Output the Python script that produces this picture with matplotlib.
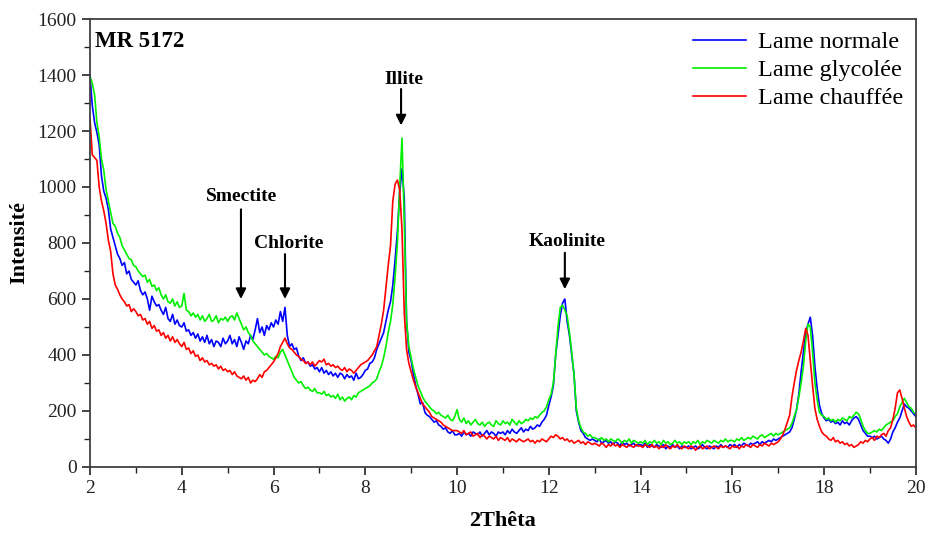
import numpy as np
import matplotlib.pyplot as plt

# 2Theta grid, 0.05 step from 2 to 20
two_theta = np.round(np.arange(2.0, 20.001, 0.05), 2)

# intensities (one row per degree)
lame_normale = [
    1400, 1290, 1230, 1195, 1150, 1040, 985, 960, 920, 850, 820, 790, 760, 745, 720, 730, 690, 700, 670, 660,
    650, 665, 630, 615, 625, 600, 560, 610, 590, 575, 580, 560, 545, 570, 530, 520, 545, 510, 525, 505,
    500, 515, 485, 490, 470, 480, 460, 475, 450, 465, 445, 470, 440, 455, 430, 450, 445, 430, 460, 440,
    450, 470, 440, 455, 430, 465, 445, 420, 450, 440, 470, 455, 490, 530, 480, 500, 470, 505, 490, 515,
    500, 525, 510, 555, 520, 570, 470, 430, 440, 420, 425, 395, 380, 390, 370, 375, 360, 365, 350, 355,
    340, 355, 335, 345, 330, 340, 325, 335, 320, 335, 330, 315, 330, 320, 325, 310, 335, 315, 320, 330,
    345, 350, 370, 375, 390, 420, 440, 460, 480, 520, 560, 590, 650, 740, 840, 980, 1065, 960, 520, 410,
    380, 330, 290, 260, 225, 230, 195, 185, 180, 170, 160, 165, 150, 145, 135, 140, 125, 120, 130, 115,
    115, 120, 110, 125, 115, 120, 110, 125, 120, 115, 125, 110, 120, 130, 115, 125, 120, 110, 125, 120,
    125, 115, 130, 120, 135, 125, 120, 130, 140, 125, 135, 130, 145, 135, 140, 150, 145, 160, 170, 185,
    220, 250, 290, 400, 470, 540, 585, 600, 520, 470, 400, 330, 200, 160, 130, 120, 105, 100, 95, 100,
    95, 90, 100, 85, 90, 95, 85, 90, 80, 90, 85, 75, 90, 80, 85, 75, 80, 85, 75, 80,
    80, 75, 85, 70, 80, 75, 70, 80, 75, 70, 80, 65, 75, 70, 80, 70, 75, 65, 75, 70,
    70, 75, 65, 70, 75, 65, 70, 80, 70, 65, 75, 70, 65, 75, 70, 80, 70, 75, 70, 80,
    75, 80, 70, 80, 75, 85, 80, 75, 85, 80, 85, 90, 80, 90, 85, 90, 95, 90, 100, 95,
    100, 105, 110, 115, 120, 125, 140, 170, 205, 260, 340, 410, 480, 510, 535, 470, 360, 280, 220, 190,
    175, 165, 170, 160, 165, 155, 160, 150, 165, 155, 160, 150, 165, 175, 180, 170, 150, 130, 120, 110,
    110, 105, 110, 100, 105, 110, 100, 95, 85, 100, 125, 140, 160, 175, 200, 225, 215, 210, 200, 190,
    180]

lame_glycolee = [
    1395, 1370, 1330, 1230, 1180, 1100, 1060, 990, 950, 910, 870, 860, 835, 820, 790, 775, 760, 745, 740, 720,
    715, 700, 690, 680, 685, 660, 670, 645, 650, 630, 640, 615, 600, 615, 590, 585, 600, 575, 590, 570,
    575, 620, 560, 555, 540, 550, 535, 545, 525, 540, 520, 530, 545, 520, 525, 540, 515, 530, 525, 535,
    520, 535, 540, 525, 550, 530, 510, 490, 500, 480, 470, 450, 440, 430, 420, 410, 400, 405, 395, 390,
    385, 395, 390, 410, 420, 400, 380, 360, 340, 320, 310, 300, 305, 290, 280, 285, 275, 270, 280, 265,
    265, 260, 270, 255, 260, 250, 255, 245, 260, 240, 250, 235, 245, 250, 240, 255, 250, 265, 270, 275,
    280, 285, 290, 300, 305, 315, 340, 360, 390, 430, 480, 520, 580, 680, 800, 1000, 1175, 880, 520, 430,
    390, 350, 320, 290, 270, 250, 235, 225, 215, 205, 200, 190, 195, 185, 180, 175, 185, 170, 165, 180,
    205, 170, 160, 175, 155, 165, 150, 160, 170, 155, 150, 160, 145, 155, 160, 150, 145, 165, 155, 150,
    165, 155, 160, 150, 170, 160, 150, 165, 155, 160, 170, 165, 175, 170, 180, 175, 185, 195, 200, 215,
    240, 260, 300, 400, 500, 570, 578, 560, 540, 480, 410, 330, 210, 165, 140, 125, 120, 110, 115, 105,
    105, 100, 95, 105, 95, 100, 90, 100, 95, 90, 100, 95, 85, 95, 90, 100, 85, 95, 90, 85,
    90, 85, 95, 80, 90, 85, 95, 85, 90, 80, 95, 85, 90, 80, 85, 95, 85, 90, 80, 90,
    85, 90, 80, 90, 85, 95, 80, 90, 85, 95, 90, 85, 95, 90, 85, 95, 90, 100, 90, 95,
    95, 90, 100, 95, 105, 95, 100, 105, 100, 110, 105, 100, 110, 115, 105, 110, 115, 120, 110, 120,
    115, 120, 125, 130, 135, 140, 155, 180, 205, 250, 300, 360, 450, 510, 500, 410, 300, 240, 195, 185,
    180, 170, 175, 165, 170, 160, 170, 165, 175, 170, 165, 180, 175, 185, 195, 190, 170, 145, 130, 120,
    120, 125, 130, 125, 135, 130, 140, 150, 155, 160, 165, 180, 190, 215, 230, 245, 230, 215, 210, 195,
    190]

lame_chauffee = [
    1245, 1115, 1105, 1095, 1000, 950, 915, 870, 810, 770, 690, 650, 635, 615, 600, 590, 575, 580, 555, 565,
    555, 540, 545, 525, 530, 510, 520, 495, 505, 485, 490, 470, 480, 460, 470, 450, 465, 445, 455, 440,
    430, 445, 420, 425, 405, 415, 395, 400, 380, 390, 375, 380, 365, 370, 360, 365, 350, 360, 345, 350,
    340, 345, 330, 340, 325, 320, 315, 325, 310, 320, 300, 310, 305, 315, 330, 320, 340, 345, 355, 365,
    375, 390, 405, 430, 445, 460, 440, 425, 420, 410, 400, 395, 385, 380, 370, 375, 365, 375, 360, 370,
    380, 375, 385, 365, 370, 360, 365, 355, 360, 350, 345, 355, 340, 350, 345, 335, 345, 355, 365, 370,
    375, 380, 390, 400, 415, 430, 470, 510, 560, 640, 720, 790, 950, 1010, 1025, 990, 850, 550, 420, 370,
    340, 310, 285, 265, 245, 225, 215, 205, 195, 180, 175, 170, 165, 160, 150, 145, 140, 135, 130, 130,
    130, 125, 120, 130, 115, 120, 125, 110, 115, 120, 105, 115, 110, 100, 110, 105, 100, 110, 95, 105,
    100, 95, 105, 90, 100, 95, 90, 100, 95, 90, 95, 100, 90, 95, 85, 95, 90, 100, 95, 90,
    100, 110, 105, 115, 110, 100, 105, 95, 100, 90, 95, 85, 90, 95, 85, 90, 80, 90, 85, 80,
    85, 80, 75, 85, 80, 70, 80, 75, 85, 75, 80, 70, 80, 75, 70, 80, 75, 70, 80, 75,
    75, 70, 80, 75, 70, 80, 70, 75, 65, 75, 70, 80, 70, 65, 75, 70, 80, 70, 65, 75,
    70, 65, 75, 70, 60, 70, 75, 65, 70, 75, 65, 70, 75, 70, 65, 75, 70, 75, 70, 65,
    75, 70, 75, 65, 75, 70, 80, 75, 70, 80, 75, 70, 80, 75, 85, 80, 75, 85, 80, 85,
    90, 100, 115, 135, 160, 185, 250, 300, 345, 380, 410, 450, 495, 470, 380, 290, 210, 170, 145, 125,
    115, 110, 100, 95, 105, 90, 95, 85, 90, 80, 85, 75, 80, 70, 75, 80, 90, 85, 95, 90,
    100, 105, 95, 110, 105, 115, 120, 110, 130, 140, 170, 210, 265, 275, 245, 210, 180, 160, 145, 150,
    140]

plt.rcParams['font.family'] = ['Liberation Serif', 'DejaVu Serif']

fig, ax = plt.subplots(figsize=(9.26, 5.37), dpi=100)
fig.subplots_adjust(left=0.0972, right=0.989, bottom=0.1304, top=0.9646)

ax.plot(two_theta, lame_normale, color='#0000ff', lw=1.2, label='Lame normale')
ax.plot(two_theta, lame_glycolee, color='#00f000', lw=1.2, label='Lame glycolée')
ax.plot(two_theta, lame_chauffee, color='#ff0000', lw=1.2, label='Lame chauffée')

ax.set_xlim(2, 20)
ax.set_ylim(0, 1600)
ax.set_xticks(range(2, 21, 2))
ax.set_xticks(range(3, 20, 2), minor=True)
ax.set_yticks(range(0, 1601, 200))
ax.set_yticks(range(100, 1600, 200), minor=True)
ax.tick_params(which='major', direction='out', length=6, width=1.2, labelsize=14, colors='#222222')
ax.tick_params(which='minor', direction='out', length=4, width=1.0, colors='#222222')
for s in ax.spines.values():
    s.set_color('#404040')
    s.set_linewidth(1.3)

ax.set_xlabel('2Thêta', fontweight='bold', fontsize=16, labelpad=10)
ax.set_ylabel('Intensité', fontweight='bold', fontsize=16, labelpad=6)

ax.text(2.1, 1520, 'MR 5172', fontweight='bold', fontsize=16.5, va='center')

# mineral peaks: arrow x, arrow head, arrow tail, label x, label y
for name, xa, yh, yt, xl, yl in [('Illite', 8.78, 1210, 1360, 8.85, 1385),
                                 ('Smectite', 5.29, 590, 930, 5.30, 965),
                                 ('Chlorite', 6.25, 590, 770, 6.34, 797),
                                 ('Kaolinite', 12.35, 625, 775, 12.40, 807)]:
    ax.annotate('', xy=(xa, yh), xytext=(xa, yt),
                arrowprops=dict(arrowstyle='-|>', color='k', lw=1.5, mutation_scale=15))
    ax.text(xl, yl, name, fontweight='bold', fontsize=14, ha='center', va='center')

ax.legend(loc='upper right', frameon=False, fontsize=17.5, handlelength=2.2,
          labelspacing=0.25, borderaxespad=0.1, handletextpad=0.5)

plt.savefig('out.png', dpi=100)
